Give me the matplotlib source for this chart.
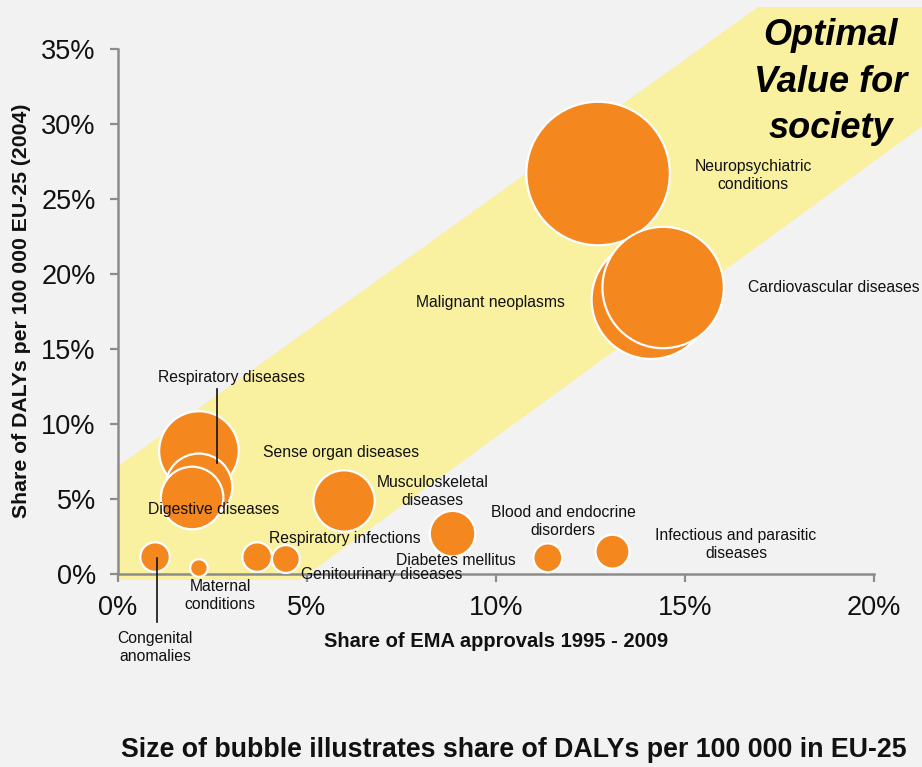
import matplotlib

matplotlib.use("Agg")
import matplotlib.pyplot as plt  # noqa: E402
from matplotlib.patches import Polygon  # noqa: E402
from matplotlib.ticker import FuncFormatter  # noqa: E402

# --- data --------------------------------------------------------------------
# drawing order matters: later bubbles sit on top of earlier ones
diseases = [
    "Neuropsychiatric conditions",
    "Malignant neoplasms",
    "Cardiovascular diseases",
    "Sense organ diseases",
    "Respiratory diseases",
    "Digestive diseases",
    "Musculoskeletal diseases",
    "Diabetes mellitus",
    "Infectious and parasitic diseases",
    "Congenital anomalies",
    "Blood and endocrine disorders",
    "Respiratory infections",
    "Genitourinary diseases",
    "Maternal conditions",
]
ema_share = [12.7, 14.1, 14.42, 2.14, 2.14, 1.96, 5.98, 8.85, 13.08, 0.98, 11.37, 3.68, 4.44, 2.14]
daly_share = [26.7, 18.3, 19.1, 8.2, 5.8, 5.07, 4.87, 2.69, 1.49, 1.13, 1.08, 1.13, 1.0, 0.4]

x_ticks = [0, 5, 10, 15, 20]
y_ticks = [0, 5, 10, 15, 20, 25, 30, 35]

# --- styling / layout --------------------------------------------------------
BG = "#f2f2f2"
BAND = "#f9f0a0"
ORANGE = "#f5871f"
AXIS = "#8c8c8c"
INK = "#111111"
SIZE_SCALE = 400  # scatter area (pt^2) per % of DALYs

# label text, anchor (data coords), horizontal alignment
LABELS = {
    "Neuropsychiatric conditions": ("Neuropsychiatric\nconditions", 16.8, 26.6, "center"),
    "Cardiovascular diseases": ("Cardiovascular diseases", 16.67, 19.07, "left"),
    "Malignant neoplasms": ("Malignant neoplasms", 9.84, 18.07, "center"),
    "Respiratory diseases": ("Respiratory diseases", 2.99, 13.13, "center"),
    "Sense organ diseases": ("Sense organ diseases", 5.9, 8.13, "center"),
    "Digestive diseases": ("Digestive diseases", 2.54, 4.27, "center"),
    "Musculoskeletal diseases": ("Musculoskeletal\ndiseases", 8.33, 5.47, "center"),
    "Respiratory infections": ("Respiratory infections", 6.0, 2.4, "center"),
    "Diabetes mellitus": ("Diabetes mellitus", 8.94, 0.93, "center"),
    "Genitourinary diseases": ("Genitourinary diseases", 6.98, 0.0, "center"),
    "Maternal conditions": ("Maternal\nconditions", 2.7, -1.4, "center"),
    "Congenital anomalies": ("Congenital\nanomalies", 0.98, -4.87, "center"),
    "Blood and endocrine disorders": ("Blood and endocrine\ndisorders", 11.77, 3.47, "center"),
    "Infectious and parasitic diseases": ("Infectious and parasitic\ndiseases", 16.35, 2.0, "center"),
}

# the "optimal value" band, data coords (runs past the axes)
BAND_XY = [(-0.03, -0.4), (4.81, -0.4), (21.3, 29.9), (21.3, 37.8), (16.93, 37.8), (-0.03, 7.13)]

plt.rcParams.update({"font.family": ["Liberation Sans", "DejaVu Sans"]})

fig = plt.figure(figsize=(9.22, 7.67), dpi=100)
fig.patch.set_facecolor(BG)
ax = fig.add_axes([0.128, 0.2516, 0.820, 0.6845])
ax.set_facecolor("none")

ax.add_patch(Polygon(BAND_XY, closed=True, facecolor=BAND, edgecolor="none",
                     zorder=0, clip_on=False))

ax.scatter(ema_share, daly_share, s=[SIZE_SCALE * d for d in daly_share],
           color=ORANGE, edgecolor="white", linewidth=1.6, zorder=3, clip_on=False)

for name in diseases:
    text, lx, ly, ha = LABELS[name]
    ax.text(lx, ly, text, ha=ha, va="center", fontsize=11.3, color=INK,
            linespacing=1.25, zorder=5, clip_on=False)

# leader lines
ax.plot([2.62, 2.62], [12.33, 7.4], color=INK, lw=1.2, zorder=4, clip_on=False)
ax.plot([1.03, 1.03], [1.07, -3.2], color=INK, lw=1.2, zorder=4, clip_on=False)

ax.text(18.85, 32.8, "Optimal\nValue for\nsociety", ha="center", va="center",
        fontsize=26, fontweight="bold", style="italic", color="black",
        linespacing=1.42, zorder=5, clip_on=False)

# --- frame -------------------------------------------------------------------
ax.set_xlim(0, 20)
ax.set_ylim(0, 35)
ax.set_xticks(x_ticks)
ax.set_yticks(y_ticks)
pct = FuncFormatter(lambda v, _: f"{v:.0f}%")
ax.xaxis.set_major_formatter(pct)
ax.yaxis.set_major_formatter(pct)
ax.tick_params(axis="both", colors=AXIS, width=1.6, length=6, labelsize=19.5,
               labelcolor=INK)
ax.tick_params(axis="x", pad=9)
ax.tick_params(axis="y", pad=10)
for s in ("top", "right"):
    ax.spines[s].set_visible(False)
for s in ("left", "bottom"):
    ax.spines[s].set_color(AXIS)
    ax.spines[s].set_linewidth(1.8)
    ax.spines[s].set_zorder(2.5)

ax.set_xlabel("Share of EMA approvals 1995 - 2009", fontsize=14.5,
              fontweight="bold", color=INK, labelpad=8)
fig.text(22 / 922, 1 - 311 / 767, "Share of DALYs per 100 000 EU-25 (2004)",
         rotation=90, ha="center", va="center", fontsize=15.3,
         fontweight="bold", color=INK)

fig.text(514 / 922, 1 - 750 / 767,
         "Size of bubble illustrates share of DALYs per 100 000 in EU-25",
         ha="center", va="center", fontsize=19.3, fontweight="bold", color=INK)

fig.savefig("out.png", dpi=100, facecolor=BG)
